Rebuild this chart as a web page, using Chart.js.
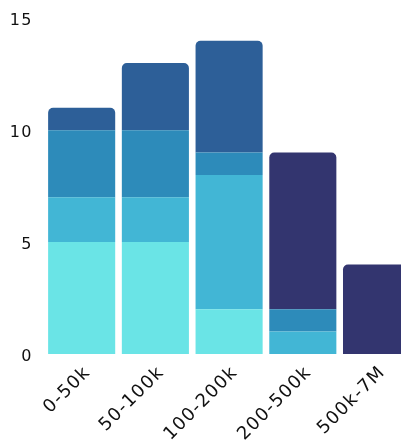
<!DOCTYPE html>
<html><head><meta charset="utf-8">
<script src="https://cdn.jsdelivr.net/npm/chart.js@4/dist/chart.umd.min.js"></script>
<style>
html,body{margin:0;padding:0;background:#fff;overflow:hidden;width:401px;height:447px;}
#wrap{position:relative;width:420px;height:447px;}
</style></head>
<body>
<div id="wrap"><canvas id="c" width="420" height="447"></canvas></div>
<script>
const categories = ['0-50k','50-100k','100-200k','200-500k','500k-7M'];
const series1 = [5, 5, 2, 0, 0];
const series2 = [2, 2, 6, 1, 0];
const series3 = [3, 3, 1, 1, 0];
const series4 = [1, 3, 5, 0, 0];
const series5 = [0, 0, 0, 7, 4];
const yTicks = [0, 5, 10, 15];

const colors = ['#6ae4e6','#42b6d5','#2d8bba','#2d5f98','#33356f'];
const allSeries = [series1, series2, series3, series4, series5];

const spacing = {
  id: 'spacing',
  beforeDraw(chart) { chart.ctx.letterSpacing = '1.3px'; }
};

new Chart(document.getElementById('c'), {
  type: 'bar',
  data: {
    labels: categories,
    datasets: allSeries.map((d, i) => ({
      data: d,
      backgroundColor: colors[i],
      borderWidth: 0,
      borderRadius: 5,
      borderSkipped: 'start',
      categoryPercentage: 1,
      barPercentage: 0.91
    }))
  },
  plugins: [spacing],
  options: {
    responsive: false,
    animation: false,
    devicePixelRatio: 1,
    layout: { padding: { top: 18.3, right: 6.6, left: 0, bottom: 0 } },
    plugins: { legend: { display: false }, tooltip: { enabled: false } },
    scales: {
      x: {
        stacked: true,
        grid: { display: false, drawTicks: false },
        border: { display: false },
        ticks: {
          minRotation: 45, maxRotation: 45, padding: 8, labelOffset: 6,
          color: '#111', font: { family: 'DejaVu Sans', size: 18 }
        },
        afterFit: s => { s.height = 93; s.paddingLeft = 0; s.paddingRight = 0; s.paddingTop = 0; s.paddingBottom = 0; }
      },
      y: {
        stacked: true,
        min: 0, max: 15,
        grid: { display: false, drawTicks: false },
        border: { display: false },
        afterBuildTicks: s => { s.ticks = yTicks.map(v => ({ value: v })); },
        ticks: {
          padding: 12, labelOffset: 2.5,
          color: '#111', font: { family: 'DejaVu Sans', size: 16 }
        },
        afterFit: s => { s.width = 44.8; s.paddingTop = 0; s.paddingBottom = 0; }
      }
    }
  }
});
</script>
</body></html>
